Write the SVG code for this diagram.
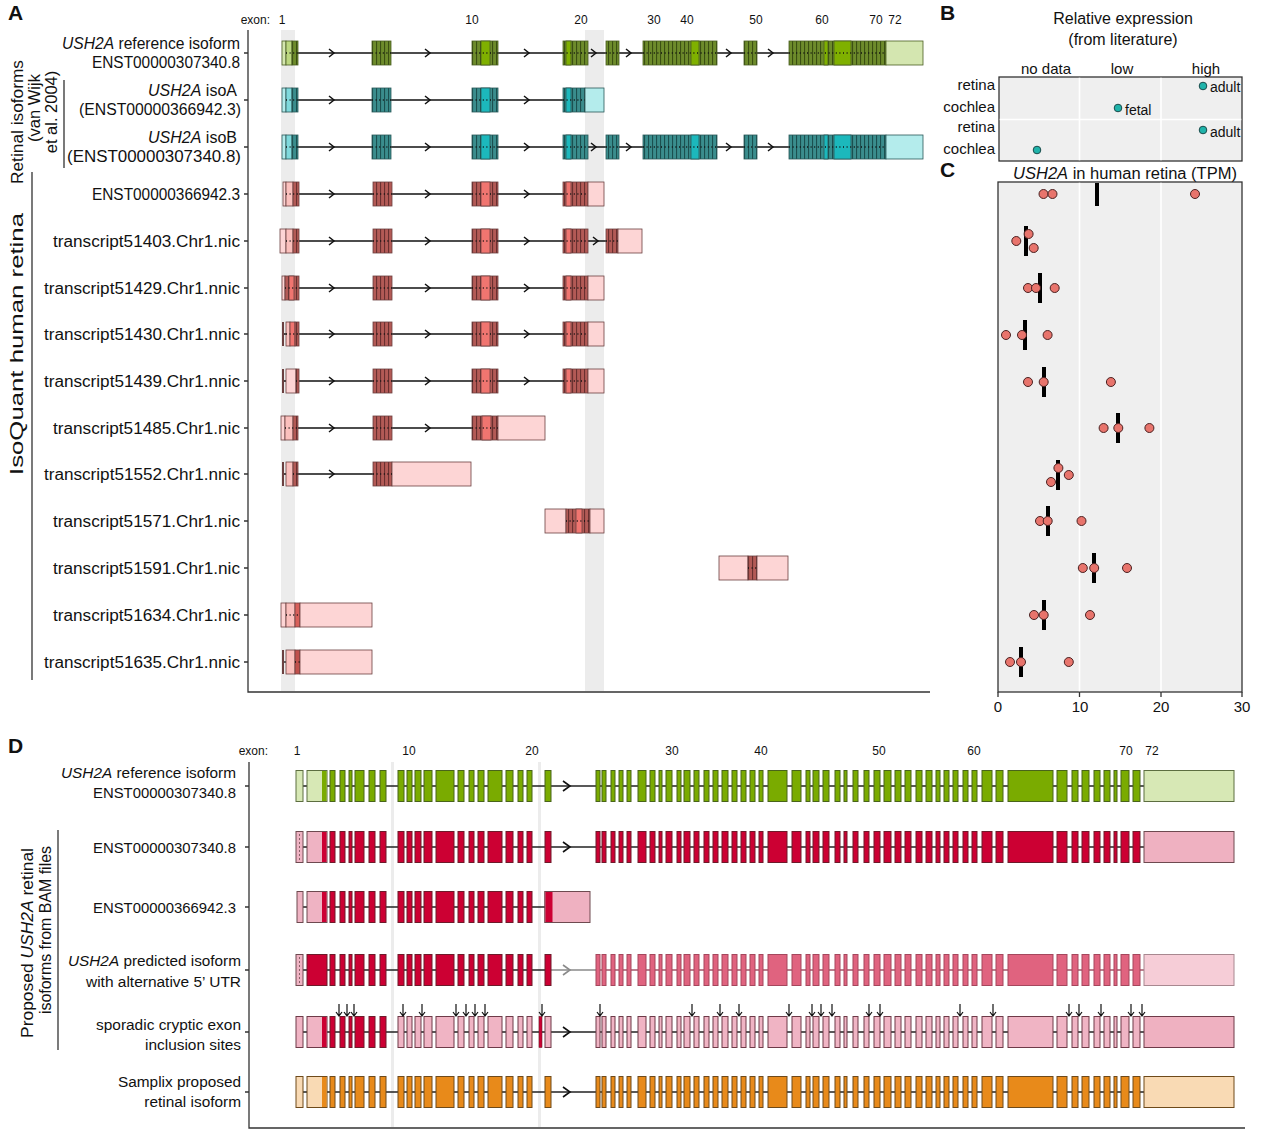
<svg xmlns="http://www.w3.org/2000/svg" xmlns:xlink="http://www.w3.org/1999/xlink" width="1280" height="1129" viewBox="0 0 1280 1129">
<style>
text{font-family:"Liberation Sans",Arial,sans-serif;fill:#111}
.lab{font-size:16px;text-anchor:end}
.labD{font-size:15.4px;text-anchor:end}
.ex{font-size:12px;text-anchor:middle}
.pl{font-size:21px;font-weight:bold}
.ax{stroke:#333;stroke-width:1.3;fill:none}
.in{stroke:#111;stroke-width:1.3;fill:none}
.inD{stroke:#222;stroke-width:1.6;fill:none}
.dt{stroke:#111;stroke-width:1.3;fill:none;stroke-dasharray:1 2.6}
.sg{stroke:#4a5e22;stroke-width:0.8}
.st{stroke:#2a5858;stroke-width:0.8}
.sr{stroke:#6b4040;stroke-width:0.8}
.band{fill:#ececec}
.dot{fill:#e8746c;stroke:#4a2222;stroke-width:1}
.bdot{fill:#1fb3aa;stroke:#1a4a4a;stroke-width:1}
.med{fill:#000}
.sm{font-size:15px}
</style>
<defs>
<pattern id="pG" width="4" height="30" patternUnits="userSpaceOnUse"><rect width="4" height="30" fill="#6d8b2b"/><rect width="1.1" height="30" fill="#3b5012"/></pattern>
<pattern id="pT" width="4" height="30" patternUnits="userSpaceOnUse"><rect width="4" height="30" fill="#3a8d8d"/><rect width="1.1" height="30" fill="#1b5050"/></pattern>
<pattern id="pR" width="4" height="30" patternUnits="userSpaceOnUse"><rect width="4" height="30" fill="#b35a56"/><rect width="1.1" height="30" fill="#6a3030"/></pattern>
<path id="chev" d="M-3,-4L2,0L-3,4" fill="none" stroke="#111" stroke-width="1.5"/>
<path id="chevD" d="M-4,-5L3,0L-4,5" fill="none" stroke="#111" stroke-width="1.6"/>
<path id="darr" d="M0,-28V-16M-3,-20L0,-16L3,-20" fill="none" stroke="#111" stroke-width="1.2"/>
<g id="dA" stroke-width="1">
<rect x="330" y="-15.5" width="5" height="31"/><rect x="340" y="-15.5" width="5" height="31"/><rect x="349" y="-15.5" width="3" height="31"/><rect x="355" y="-15.5" width="9" height="31"/><rect x="369" y="-15.5" width="6" height="31"/><rect x="380" y="-15.5" width="6" height="31"/>
</g>
<g id="dB" stroke-width="1">
<rect x="398" y="-15.5" width="6" height="31"/><rect x="407" y="-15.5" width="5" height="31"/><rect x="415" y="-15.5" width="6" height="31"/><rect x="424" y="-15.5" width="8" height="31"/><rect x="436" y="-15.5" width="18" height="31"/><rect x="458" y="-15.5" width="6" height="31"/><rect x="469" y="-15.5" width="5" height="31"/><rect x="478" y="-15.5" width="6" height="31"/><rect x="488" y="-15.5" width="14" height="31"/><rect x="506" y="-15.5" width="7" height="31"/><rect x="518" y="-15.5" width="5" height="31"/><rect x="527" y="-15.5" width="5" height="31"/><rect x="545" y="-15.5" width="6" height="31"/>
</g>
<g id="dC" stroke-width="1">
<rect x="596" y="-15.5" width="4" height="31"/><rect x="602" y="-15.5" width="4" height="31"/><rect x="611" y="-15.5" width="4" height="31"/><rect x="619" y="-15.5" width="4" height="31"/><rect x="627" y="-15.5" width="4" height="31"/><rect x="638" y="-15.5" width="8" height="31"/><rect x="650" y="-15.5" width="5" height="31"/><rect x="659" y="-15.5" width="3" height="31"/><rect x="666" y="-15.5" width="6" height="31"/><rect x="677" y="-15.5" width="4" height="31"/><rect x="684" y="-15.5" width="6" height="31"/><rect x="694" y="-15.5" width="5" height="31"/><rect x="704" y="-15.5" width="5" height="31"/><rect x="713" y="-15.5" width="5" height="31"/><rect x="722" y="-15.5" width="6" height="31"/><rect x="732" y="-15.5" width="5" height="31"/><rect x="741" y="-15.5" width="5" height="31"/><rect x="750" y="-15.5" width="5" height="31"/><rect x="759" y="-15.5" width="4" height="31"/><rect x="768" y="-15.5" width="19" height="31"/><rect x="792" y="-15.5" width="9" height="31"/><rect x="806" y="-15.5" width="4" height="31"/><rect x="813" y="-15.5" width="6" height="31"/><rect x="823" y="-15.5" width="6" height="31"/><rect x="835" y="-15.5" width="5" height="31"/><rect x="844" y="-15.5" width="3" height="31"/><rect x="853" y="-15.5" width="5" height="31"/><rect x="864" y="-15.5" width="5" height="31"/><rect x="874" y="-15.5" width="6" height="31"/><rect x="884" y="-15.5" width="7" height="31"/><rect x="895" y="-15.5" width="6" height="31"/><rect x="905" y="-15.5" width="6" height="31"/><rect x="916" y="-15.5" width="6" height="31"/><rect x="926" y="-15.5" width="6" height="31"/><rect x="936" y="-15.5" width="4" height="31"/><rect x="944" y="-15.5" width="5" height="31"/><rect x="953" y="-15.5" width="5" height="31"/><rect x="963" y="-15.5" width="5" height="31"/><rect x="972" y="-15.5" width="5" height="31"/><rect x="982" y="-15.5" width="10" height="31"/><rect x="996" y="-15.5" width="7" height="31"/><rect x="1008" y="-15.5" width="45" height="31"/><rect x="1057" y="-15.5" width="10" height="31"/><rect x="1072" y="-15.5" width="6" height="31"/><rect x="1082" y="-15.5" width="7" height="31"/><rect x="1094" y="-15.5" width="6" height="31"/><rect x="1104" y="-15.5" width="6" height="31"/><rect x="1114" y="-15.5" width="3" height="31"/><rect x="1121" y="-15.5" width="8" height="31"/><rect x="1133" y="-15.5" width="7" height="31"/>
</g>
</defs>
<rect width="1280" height="1129" fill="#fff"/>

<!-- ============ PANEL A ============ -->
<g id="panelA">
<text class="pl" x="8" y="20">A</text>
<g id="a-exon-scale">
<text class="ex" x="270" y="24" style="text-anchor:end">exon:</text>
<text class="ex" x="282" y="24">1</text><text class="ex" x="472" y="24">10</text><text class="ex" x="581" y="24">20</text><text class="ex" x="654" y="24">30</text><text class="ex" x="687" y="24">40</text><text class="ex" x="756" y="24">50</text><text class="ex" x="822" y="24">60</text><text class="ex" x="876" y="24">70</text><text class="ex" x="895" y="24">72</text>
</g>
<rect class="band" x="281" y="30" width="14" height="661"/>
<rect class="band" x="585" y="30" width="19" height="661"/>
<g id="a-axes">
<path class="ax" d="M248,30V692H930"/>
<path class="ax" d="M244,53H248M244,100H248M244,147H248M244,194H248M244,241H248M244,288H248M244,334H248M244,381H248M244,428H248M244,474H248M244,521H248M244,568H248M244,615H248M244,662H248"/>
<path class="ax" d="M64,80V168M32,172V680"/>
</g>
<g id="a-side-labels">
<text transform="translate(23,122) rotate(-90)" text-anchor="middle" font-size="16.5" textLength="124" lengthAdjust="spacingAndGlyphs">Retinal isoforms</text>
<text transform="translate(40,108) rotate(-90)" text-anchor="middle" font-size="16.5">(van Wijk</text>
<text transform="translate(57,112) rotate(-90)" text-anchor="middle" font-size="16.5">et al. 2004)</text>
<text transform="translate(23,344) rotate(-90)" text-anchor="middle" font-size="18" textLength="262" lengthAdjust="spacingAndGlyphs">IsoQuant human retina</text>
</g>
<g id="a-labels">
<text class="lab" x="240" y="49" textLength="178" lengthAdjust="spacingAndGlyphs"><tspan font-style="italic">USH2A</tspan> reference isoform</text>
<text class="lab" x="240" y="68" textLength="148" lengthAdjust="spacingAndGlyphs">ENST00000307340.8</text>
<text class="lab" x="237" y="96"><tspan font-style="italic">USH2A</tspan> isoA</text>
<text class="lab" x="241" y="115" textLength="162" lengthAdjust="spacingAndGlyphs">(ENST00000366942.3)</text>
<text class="lab" x="237" y="143"><tspan font-style="italic">USH2A</tspan> isoB</text>
<text class="lab" x="241" y="162" textLength="174" lengthAdjust="spacingAndGlyphs">(ENST00000307340.8)</text>
<text class="lab" x="240" y="200" textLength="148" lengthAdjust="spacingAndGlyphs">ENST00000366942.3</text>
<text class="lab" x="240" y="247" textLength="187" lengthAdjust="spacingAndGlyphs">transcript51403.Chr1.nic</text>
<text class="lab" x="240" y="294" textLength="196" lengthAdjust="spacingAndGlyphs">transcript51429.Chr1.nnic</text>
<text class="lab" x="240" y="340" textLength="196" lengthAdjust="spacingAndGlyphs">transcript51430.Chr1.nnic</text>
<text class="lab" x="240" y="387" textLength="196" lengthAdjust="spacingAndGlyphs">transcript51439.Chr1.nnic</text>
<text class="lab" x="240" y="434" textLength="187" lengthAdjust="spacingAndGlyphs">transcript51485.Chr1.nic</text>
<text class="lab" x="240" y="480" textLength="196" lengthAdjust="spacingAndGlyphs">transcript51552.Chr1.nnic</text>
<text class="lab" x="240" y="527" textLength="187" lengthAdjust="spacingAndGlyphs">transcript51571.Chr1.nic</text>
<text class="lab" x="240" y="574" textLength="187" lengthAdjust="spacingAndGlyphs">transcript51591.Chr1.nic</text>
<text class="lab" x="240" y="621" textLength="187" lengthAdjust="spacingAndGlyphs">transcript51634.Chr1.nic</text>
<text class="lab" x="240" y="668" textLength="196" lengthAdjust="spacingAndGlyphs">transcript51635.Chr1.nnic</text>
</g>

<g id="a-ref" transform="translate(0,53)">
<path class="in" d="M298,0H886"/>
<rect class="sg" x="282" y="-12" width="4" height="24" fill="#d4e6b0"/>
<rect class="sg" x="286" y="-12" width="6" height="24" fill="#bcd780"/>
<rect class="sg" x="292" y="-12" width="6" height="24" fill="url(#pG)"/>
<rect class="sg" x="372" y="-12" width="19" height="24" fill="url(#pG)"/>
<rect class="sg" x="472" y="-12" width="26" height="24" fill="url(#pG)"/>
<rect class="sg" x="481" y="-12" width="9" height="24" fill="#7fb000"/>
<rect class="sg" x="563" y="-12" width="25" height="24" fill="url(#pG)"/>
<rect class="sg" x="566" y="-12" width="5" height="24" fill="#7fb000"/>
<rect class="sg" x="606" y="-12" width="13" height="24" fill="url(#pG)"/>
<rect class="sg" x="643" y="-12" width="74" height="24" fill="url(#pG)"/>
<rect class="sg" x="691" y="-12" width="8" height="24" fill="#7fb000"/>
<rect class="sg" x="744" y="-12" width="13" height="24" fill="url(#pG)"/>
<rect class="sg" x="789" y="-12" width="97" height="24" fill="url(#pG)"/>
<rect class="sg" x="824" y="-12" width="4" height="24" fill="#7fb000"/>
<rect class="sg" x="834" y="-12" width="17" height="24" fill="#7fb000"/>
<rect class="sg" x="886" y="-12" width="37" height="24" fill="#d4e6b0"/>
<path class="dt" d="M286,0H298M372,0H391M472,0H498M563,0H588M606,0H619M643,0H717M744,0H757M789,0H886"/>
<use href="#chev" x="332"/><use href="#chev" x="428"/><use href="#chev" x="527"/><use href="#chev" x="594"/><use href="#chev" x="629"/><use href="#chev" x="729"/><use href="#chev" x="771"/>
</g>

<g id="a-isoA" transform="translate(0,100)">
<path class="in" d="M298,0H585"/>
<rect class="st" x="282" y="-12" width="4" height="24" fill="#b4ecec"/>
<rect class="st" x="286" y="-12" width="6" height="24" fill="#7fd9dc"/>
<rect class="st" x="292" y="-12" width="6" height="24" fill="url(#pT)"/>
<rect class="st" x="372" y="-12" width="19" height="24" fill="url(#pT)"/>
<rect class="st" x="472" y="-12" width="26" height="24" fill="url(#pT)"/>
<rect class="st" x="481" y="-12" width="9" height="24" fill="#1cb8bc"/>
<rect class="st" x="563" y="-12" width="22" height="24" fill="url(#pT)"/>
<rect class="st" x="566" y="-12" width="5" height="24" fill="#1cb8bc"/>
<rect class="st" x="585" y="-12" width="19" height="24" fill="#b4ecec"/>
<path class="dt" d="M286,0H298M372,0H391M472,0H498M563,0H585"/>
<use href="#chev" x="332"/><use href="#chev" x="428"/><use href="#chev" x="527"/>
</g>

<g id="a-isoB" transform="translate(0,147)">
<path class="in" d="M298,0H886"/>
<rect class="st" x="282" y="-12" width="4" height="24" fill="#b4ecec"/>
<rect class="st" x="286" y="-12" width="6" height="24" fill="#7fd9dc"/>
<rect class="st" x="292" y="-12" width="6" height="24" fill="url(#pT)"/>
<rect class="st" x="372" y="-12" width="19" height="24" fill="url(#pT)"/>
<rect class="st" x="472" y="-12" width="26" height="24" fill="url(#pT)"/>
<rect class="st" x="481" y="-12" width="9" height="24" fill="#1cb8bc"/>
<rect class="st" x="563" y="-12" width="25" height="24" fill="url(#pT)"/>
<rect class="st" x="566" y="-12" width="5" height="24" fill="#1cb8bc"/>
<rect class="st" x="606" y="-12" width="13" height="24" fill="url(#pT)"/>
<rect class="st" x="643" y="-12" width="74" height="24" fill="url(#pT)"/>
<rect class="st" x="691" y="-12" width="8" height="24" fill="#1cb8bc"/>
<rect class="st" x="744" y="-12" width="13" height="24" fill="url(#pT)"/>
<rect class="st" x="789" y="-12" width="97" height="24" fill="url(#pT)"/>
<rect class="st" x="824" y="-12" width="4" height="24" fill="#1cb8bc"/>
<rect class="st" x="834" y="-12" width="17" height="24" fill="#1cb8bc"/>
<rect class="st" x="886" y="-12" width="37" height="24" fill="#b4ecec"/>
<path class="dt" d="M286,0H298M372,0H391M472,0H498M563,0H588M606,0H619M643,0H717M744,0H757M789,0H886"/>
<use href="#chev" x="332"/><use href="#chev" x="428"/><use href="#chev" x="527"/><use href="#chev" x="594"/><use href="#chev" x="629"/><use href="#chev" x="729"/><use href="#chev" x="771"/>
</g>

<g id="a-r366942" transform="translate(0,194)">
<path class="in" d="M299,0H563"/>
<rect class="sr" x="283" y="-12" width="3" height="24" fill="#fdd5d5"/>
<rect class="sr" x="286" y="-12" width="7" height="24" fill="#fbc0bd"/>
<rect class="sr" x="293" y="-12" width="6" height="24" fill="url(#pR)"/>
<rect class="sr" x="373" y="-12" width="19" height="24" fill="url(#pR)"/>
<rect class="sr" x="472" y="-12" width="26" height="24" fill="url(#pR)"/>
<rect class="sr" x="481" y="-12" width="9" height="24" fill="#f07570"/>
<rect class="sr" x="563" y="-12" width="25" height="24" fill="url(#pR)"/>
<rect class="sr" x="566" y="-12" width="5" height="24" fill="#f07570"/>
<rect class="sr" x="588" y="-12" width="16" height="24" fill="#fdd5d5"/>
<path class="dt" d="M286,0H299M373,0H392M472,0H498M563,0H588"/>
<use href="#chev" x="332"/><use href="#chev" x="428"/><use href="#chev" x="527"/>
</g>

<g id="a-t51403" transform="translate(0,241)">
<path class="in" d="M299,0H606"/>
<rect class="sr" x="280" y="-12" width="6" height="24" fill="#fdd5d5"/>
<rect class="sr" x="286" y="-12" width="7" height="24" fill="#fbc0bd"/>
<rect class="sr" x="293" y="-12" width="6" height="24" fill="url(#pR)"/>
<rect class="sr" x="373" y="-12" width="19" height="24" fill="url(#pR)"/>
<rect class="sr" x="472" y="-12" width="26" height="24" fill="url(#pR)"/>
<rect class="sr" x="481" y="-12" width="9" height="24" fill="#f07570"/>
<rect class="sr" x="563" y="-12" width="25" height="24" fill="url(#pR)"/>
<rect class="sr" x="566" y="-12" width="5" height="24" fill="#f07570"/>
<rect class="sr" x="606" y="-12" width="12" height="24" fill="url(#pR)"/>
<rect class="sr" x="618" y="-12" width="24" height="24" fill="#fdd5d5"/>
<path class="dt" d="M286,0H299M373,0H392M472,0H498M563,0H588M606,0H618"/>
<use href="#chev" x="332"/><use href="#chev" x="428"/><use href="#chev" x="527"/><use href="#chev" x="596"/>
</g>

<g id="a-t51429" transform="translate(0,288)">
<path class="in" d="M299,0H563"/>
<rect class="sr" x="282" y="-12" width="3" height="24" fill="#fdd5d5"/>
<rect class="sr" x="285" y="-12" width="14" height="24" fill="url(#pR)"/>
<rect class="sr" x="289" y="-12" width="5" height="24" fill="#f07570"/>
<rect class="sr" x="373" y="-12" width="19" height="24" fill="url(#pR)"/>
<rect class="sr" x="472" y="-12" width="26" height="24" fill="url(#pR)"/>
<rect class="sr" x="481" y="-12" width="9" height="24" fill="#f07570"/>
<rect class="sr" x="563" y="-12" width="25" height="24" fill="url(#pR)"/>
<rect class="sr" x="566" y="-12" width="5" height="24" fill="#f07570"/>
<rect class="sr" x="588" y="-12" width="16" height="24" fill="#fdd5d5"/>
<path class="dt" d="M285,0H299M373,0H392M472,0H498M563,0H588"/>
<use href="#chev" x="332"/><use href="#chev" x="428"/><use href="#chev" x="527"/>
</g>

<g id="a-t51430" transform="translate(0,334)">
<path class="in" d="M283,0H563"/>
<rect x="282" y="-12" width="2" height="24" fill="#6b4040"/>
<rect class="sr" x="286" y="-12" width="4" height="24" fill="#fbc0bd"/>
<rect class="sr" x="290" y="-12" width="5" height="24" fill="#f07570"/>
<rect class="sr" x="295" y="-12" width="4" height="24" fill="url(#pR)"/>
<rect class="sr" x="373" y="-12" width="19" height="24" fill="url(#pR)"/>
<rect class="sr" x="472" y="-12" width="26" height="24" fill="url(#pR)"/>
<rect class="sr" x="481" y="-12" width="9" height="24" fill="#f07570"/>
<rect class="sr" x="563" y="-12" width="25" height="24" fill="url(#pR)"/>
<rect class="sr" x="566" y="-12" width="5" height="24" fill="#f07570"/>
<rect class="sr" x="588" y="-12" width="16" height="24" fill="#fdd5d5"/>
<path class="dt" d="M286,0H299M373,0H392M472,0H498M563,0H588"/>
<use href="#chev" x="332"/><use href="#chev" x="428"/><use href="#chev" x="527"/>
</g>

<g id="a-t51439" transform="translate(0,381)">
<path class="in" d="M283,0H563"/>
<rect x="282" y="-12" width="2" height="24" fill="#6b4040"/>
<rect class="sr" x="286" y="-12" width="10" height="24" fill="#fdd5d5"/>
<rect class="sr" x="296" y="-12" width="3" height="24" fill="url(#pR)"/>
<rect class="sr" x="373" y="-12" width="19" height="24" fill="url(#pR)"/>
<rect class="sr" x="472" y="-12" width="26" height="24" fill="url(#pR)"/>
<rect class="sr" x="481" y="-12" width="9" height="24" fill="#f07570"/>
<rect class="sr" x="563" y="-12" width="25" height="24" fill="url(#pR)"/>
<rect class="sr" x="566" y="-12" width="5" height="24" fill="#f07570"/>
<rect class="sr" x="588" y="-12" width="16" height="24" fill="#fdd5d5"/>
<path class="dt" d="M296,0H299M373,0H392M472,0H498M563,0H588"/>
<use href="#chev" x="332"/><use href="#chev" x="428"/><use href="#chev" x="527"/>
</g>

<g id="a-t51485" transform="translate(0,428)">
<path class="in" d="M298,0H472"/>
<rect class="sr" x="281" y="-12" width="4" height="24" fill="#fdd5d5"/>
<rect class="sr" x="285" y="-12" width="8" height="24" fill="#fbc0bd"/>
<rect class="sr" x="293" y="-12" width="5" height="24" fill="url(#pR)"/>
<rect class="sr" x="373" y="-12" width="19" height="24" fill="url(#pR)"/>
<rect class="sr" x="472" y="-12" width="26" height="24" fill="url(#pR)"/>
<rect class="sr" x="482" y="-12" width="9" height="24" fill="#f07570"/>
<rect class="sr" x="498" y="-12" width="47" height="24" fill="#fdd5d5"/>
<path class="dt" d="M285,0H298M373,0H392M472,0H498"/>
<use href="#chev" x="332"/><use href="#chev" x="428"/>
</g>

<g id="a-t51552" transform="translate(0,474)">
<path class="in" d="M283,0H373"/>
<rect x="282" y="-12" width="2" height="24" fill="#6b4040"/>
<rect class="sr" x="286" y="-12" width="7" height="24" fill="#fbc0bd"/>
<rect class="sr" x="293" y="-12" width="5" height="24" fill="url(#pR)"/>
<rect class="sr" x="373" y="-12" width="19" height="24" fill="url(#pR)"/>
<rect class="sr" x="392" y="-12" width="79" height="24" fill="#fdd5d5"/>
<path class="dt" d="M293,0H298M373,0H392"/>
<use href="#chev" x="332"/>
</g>

<g id="a-t51571" transform="translate(0,521)">
<rect class="sr" x="545" y="-12" width="21" height="24" fill="#fdd5d5"/>
<rect class="sr" x="566" y="-12" width="24" height="24" fill="url(#pR)"/>
<rect class="sr" x="576" y="-12" width="6" height="24" fill="#f07570"/>
<rect class="sr" x="590" y="-12" width="14" height="24" fill="#fdd5d5"/>
<path class="dt" d="M566,0H590"/>
</g>

<g id="a-t51591" transform="translate(0,568)">
<rect class="sr" x="719" y="-12" width="29" height="24" fill="#fdd5d5"/>
<rect class="sr" x="748" y="-12" width="9" height="24" fill="url(#pR)"/>
<rect class="sr" x="757" y="-12" width="31" height="24" fill="#fdd5d5"/>
<path class="dt" d="M748,0H757"/>
</g>

<g id="a-t51634" transform="translate(0,615)">
<rect class="sr" x="281" y="-12" width="5" height="24" fill="#fdd5d5"/>
<rect class="sr" x="286" y="-12" width="9" height="24" fill="#fbc0bd"/>
<rect class="sr" x="295" y="-12" width="5" height="24" fill="#d8605a"/>
<rect class="sr" x="300" y="-12" width="72" height="24" fill="#fdd5d5"/>
<path class="dt" d="M286,0H300"/>
</g>

<g id="a-t51635" transform="translate(0,662)">
<path class="in" d="M283,0H286"/>
<rect x="282" y="-12" width="2" height="24" fill="#6b4040"/>
<rect class="sr" x="286" y="-12" width="9" height="24" fill="#fbc0bd"/>
<rect class="sr" x="295" y="-12" width="5" height="24" fill="#c0504c"/>
<rect class="sr" x="300" y="-12" width="72" height="24" fill="#fdd5d5"/>
<path class="dt" d="M295,0H300"/>
</g>
</g>

<!-- ============ PANEL B ============ -->
<g id="panelB">
<text class="pl" x="940" y="20">B</text>
<text x="1123" y="24" font-size="16" text-anchor="middle">Relative expression</text>
<text x="1123" y="45" font-size="16" text-anchor="middle">(from literature)</text>
<rect x="999" y="77" width="243" height="84" fill="#efefef" stroke="#333" stroke-width="1.3"/>
<path d="M1079.5,77.7V160.3M1161,77.7V160.3M999.7,119.5H1241.3" stroke="#fff" stroke-width="1.6"/>
<text class="sm" x="1046" y="74" text-anchor="middle">no data</text>
<text class="sm" x="1122" y="74" text-anchor="middle">low</text>
<text class="sm" x="1206" y="74" text-anchor="middle">high</text>
<text class="sm" x="995" y="90" text-anchor="end">retina</text>
<text class="sm" x="995" y="112" text-anchor="end">cochlea</text>
<text class="sm" x="995" y="132" text-anchor="end">retina</text>
<text class="sm" x="995" y="154" text-anchor="end">cochlea</text>
<circle class="bdot" cx="1203" cy="86" r="3.8"/>
<circle class="bdot" cx="1118" cy="108" r="3.8"/>
<circle class="bdot" cx="1203" cy="130" r="3.8"/>
<circle class="bdot" cx="1037" cy="150" r="3.8"/>
<text x="1210" y="92" font-size="14">adult</text>
<text x="1125" y="115" font-size="14">fetal</text>
<text x="1210" y="137" font-size="14">adult</text>
</g>

<!-- ============ PANEL C ============ -->
<g id="panelC">
<text class="pl" x="940" y="177">C</text>
<text x="1125" y="179" font-size="16" text-anchor="middle" textLength="224" lengthAdjust="spacingAndGlyphs"><tspan font-style="italic">USH2A</tspan> in human retina (TPM)</text>
<rect x="998" y="182" width="244" height="510" fill="#efefef" stroke="#333" stroke-width="1.3"/>
<path d="M1079.5,182.7V691.3M1161,182.7V691.3" stroke="#fff" stroke-width="1.6"/>
<path class="ax" d="M998,692V697M1079.5,692V697M1161,692V697M1242,692V697"/>
<text class="sm" x="998" y="712" text-anchor="middle">0</text>
<text class="sm" x="1080" y="712" text-anchor="middle">10</text>
<text class="sm" x="1161" y="712" text-anchor="middle">20</text>
<text class="sm" x="1242" y="712" text-anchor="middle">30</text>
<g id="c-medians">
<rect class="med" x="1095" y="183" width="4" height="23"/>
<rect class="med" x="1024" y="226" width="4" height="30"/>
<rect class="med" x="1038" y="273" width="4" height="30"/>
<rect class="med" x="1023" y="320" width="4" height="30"/>
<rect class="med" x="1042" y="367" width="4" height="30"/>
<rect class="med" x="1116" y="413" width="4" height="30"/>
<rect class="med" x="1056" y="460" width="4" height="30"/>
<rect class="med" x="1046" y="506" width="4" height="30"/>
<rect class="med" x="1092" y="553" width="4" height="30"/>
<rect class="med" x="1042" y="600" width="4" height="30"/>
<rect class="med" x="1019" y="647" width="4" height="30"/>
</g>
<g id="c-dots">
<circle class="dot" cx="1043.5" cy="194" r="4.5"/><circle class="dot" cx="1052.5" cy="194" r="4.5"/><circle class="dot" cx="1195" cy="194" r="4.5"/>
<circle class="dot" cx="1028.6" cy="234" r="4.5"/><circle class="dot" cx="1016.3" cy="241" r="4.5"/><circle class="dot" cx="1033.7" cy="248" r="4.5"/>
<circle class="dot" cx="1028" cy="288" r="4.5"/><circle class="dot" cx="1036" cy="288" r="4.5"/><circle class="dot" cx="1054.7" cy="288" r="4.5"/>
<circle class="dot" cx="1006" cy="335" r="4.5"/><circle class="dot" cx="1022" cy="335" r="4.5"/><circle class="dot" cx="1047.6" cy="335" r="4.5"/>
<circle class="dot" cx="1028" cy="382" r="4.5"/><circle class="dot" cx="1043.7" cy="382" r="4.5"/><circle class="dot" cx="1110.9" cy="382" r="4.5"/>
<circle class="dot" cx="1103.6" cy="428" r="4.5"/><circle class="dot" cx="1118.3" cy="428" r="4.5"/><circle class="dot" cx="1149.4" cy="428" r="4.5"/>
<circle class="dot" cx="1058.4" cy="468" r="4.5"/><circle class="dot" cx="1068.8" cy="475" r="4.5"/><circle class="dot" cx="1051" cy="482" r="4.5"/>
<circle class="dot" cx="1040" cy="521" r="4.5"/><circle class="dot" cx="1047.7" cy="521" r="4.5"/><circle class="dot" cx="1081.5" cy="521" r="4.5"/>
<circle class="dot" cx="1082.8" cy="568" r="4.5"/><circle class="dot" cx="1094.2" cy="568" r="4.5"/><circle class="dot" cx="1127" cy="568" r="4.5"/>
<circle class="dot" cx="1034" cy="615" r="4.5"/><circle class="dot" cx="1043.7" cy="615" r="4.5"/><circle class="dot" cx="1090" cy="615" r="4.5"/>
<circle class="dot" cx="1010" cy="662" r="4.5"/><circle class="dot" cx="1021" cy="662" r="4.5"/><circle class="dot" cx="1068.8" cy="662" r="4.5"/>
</g>
</g>

<!-- ============ PANEL D ============ -->
<g id="panelD">
<text class="pl" x="8" y="753">D</text>
<g id="d-exon-scale">
<text class="ex" x="268" y="755" style="text-anchor:end">exon:</text>
<text class="ex" x="297" y="755">1</text><text class="ex" x="409" y="755">10</text><text class="ex" x="532" y="755">20</text><text class="ex" x="672" y="755">30</text><text class="ex" x="761" y="755">40</text><text class="ex" x="879" y="755">50</text><text class="ex" x="974" y="755">60</text><text class="ex" x="1126" y="755">70</text><text class="ex" x="1152" y="755">72</text>
</g>
<rect x="391" y="762" width="3" height="365" fill="#ececec"/>
<rect x="538" y="762" width="3" height="365" fill="#ececec"/>
<g id="d-axes">
<path class="ax" d="M249,762V1128H1245"/>
<path class="ax" d="M245,786H249M245,847H249M245,907H249M245,970H249M245,1032H249M245,1092H249"/>
<path class="ax" d="M58,830V1050"/>
</g>
<g id="d-side-labels">
<text transform="translate(33,943) rotate(-90)" text-anchor="middle" font-size="16.5" textLength="190" lengthAdjust="spacingAndGlyphs">Proposed <tspan font-style="italic">USH2A</tspan> retinal</text>
<text transform="translate(51,930) rotate(-90)" text-anchor="middle" font-size="16.5" textLength="168" lengthAdjust="spacingAndGlyphs">isoforms from BAM files</text>
</g>
<g id="d-labels">
<text class="labD" x="236" y="778" textLength="175" lengthAdjust="spacingAndGlyphs"><tspan font-style="italic">USH2A</tspan> reference isoform</text>
<text class="labD" x="236" y="798" textLength="143" lengthAdjust="spacingAndGlyphs">ENST00000307340.8</text>
<text class="labD" x="236" y="853" textLength="143" lengthAdjust="spacingAndGlyphs">ENST00000307340.8</text>
<text class="labD" x="236" y="913" textLength="143" lengthAdjust="spacingAndGlyphs">ENST00000366942.3</text>
<text class="labD" x="241" y="966" textLength="173" lengthAdjust="spacingAndGlyphs"><tspan font-style="italic">USH2A</tspan> predicted isoform</text>
<text class="labD" x="241" y="987" textLength="155" lengthAdjust="spacingAndGlyphs">with alternative 5’ UTR</text>
<text class="labD" x="241" y="1030" textLength="145" lengthAdjust="spacingAndGlyphs">sporadic cryptic exon</text>
<text class="labD" x="241" y="1050" textLength="96" lengthAdjust="spacingAndGlyphs">inclusion sites</text>
<text class="labD" x="241" y="1087" textLength="123" lengthAdjust="spacingAndGlyphs">Samplix proposed</text>
<text class="labD" x="241" y="1107">retinal isoform</text>
</g>

<g id="d-ref" transform="translate(0,786)">
<path class="inD" d="M303,0H1144"/>
<use href="#chevD" x="567"/>
<rect x="296" y="-15.5" width="7" height="31" fill="#d7e8b5" stroke="#5d6e40"/>
<rect x="307" y="-15.5" width="20" height="31" fill="#d7e8b5" stroke="#5d6e40"/>
<rect x="322" y="-15" width="4.5" height="30" fill="#7aab00"/>
<use href="#dA" fill="#7aab00" stroke="#49641a"/>
<use href="#dB" fill="#7aab00" stroke="#49641a"/>
<use href="#dC" fill="#7aab00" stroke="#49641a"/>
<rect x="1144" y="-15.5" width="90" height="31" fill="#d7e8b5" stroke="#5d6e40"/>
</g>

<g id="d-307340" transform="translate(0,847)">
<path class="inD" d="M303,0H1144"/>
<use href="#chevD" x="567"/>
<rect x="296" y="-15.5" width="7" height="31" fill="#efb3c3" stroke="#6e4a50"/>
<path d="M299.5,-13V13" stroke="#6e4a50" stroke-width="0.8" stroke-dasharray="2 2"/>
<rect x="307" y="-15.5" width="20" height="31" fill="#efb3c3" stroke="#6e4a50"/>
<rect x="322" y="-15" width="4.5" height="30" fill="#cc0033"/>
<use href="#dA" fill="#cc0033" stroke="#6e1a2a"/>
<use href="#dB" fill="#cc0033" stroke="#6e1a2a"/>
<use href="#dC" fill="#cc0033" stroke="#6e1a2a"/>
<rect x="1144" y="-15.5" width="90" height="31" fill="#efb1c1" stroke="#6e4a50"/>
</g>

<g id="d-366942" transform="translate(0,907)">
<path class="inD" d="M303,0H545"/>
<rect x="297" y="-15.5" width="6" height="31" fill="#efb3c3" stroke="#6e4a50"/>
<rect x="307" y="-15.5" width="20" height="31" fill="#efb3c3" stroke="#6e4a50"/>
<rect x="322" y="-15" width="4.5" height="30" fill="#cc0033"/>
<use href="#dA" fill="#cc0033" stroke="#6e1a2a"/>
<use href="#dB" fill="#cc0033" stroke="#6e1a2a"/>
<rect x="545" y="-15.5" width="45" height="31" fill="#efb1c1" stroke="#6e4a50"/>
<rect x="545.5" y="-15" width="7" height="30" fill="#cc0033"/>
</g>

<g id="d-predicted" transform="translate(0,970)">
<path class="inD" d="M303,0H551"/>
<path d="M551,0H596" stroke="#8a8a8a" stroke-width="1.6"/>
<path d="M596,0H1144" stroke="#a3566a" stroke-width="1.6"/>
<path d="M563,-5L570,0L563,5" fill="none" stroke="#8a8a8a" stroke-width="1.6"/>
<rect x="296" y="-15.5" width="7" height="31" fill="#efb3c3" stroke="#6e4a50"/>
<path d="M299.5,-13V13" stroke="#6e4a50" stroke-width="0.8" stroke-dasharray="2 2"/>
<rect x="307" y="-15.5" width="20" height="31" fill="#cc0033" stroke="#6e1a2a"/>
<use href="#dA" fill="#cc0033" stroke="#6e1a2a"/>
<use href="#dB" fill="#cc0033" stroke="#6e1a2a"/>
<use href="#dC" fill="#e0637f" stroke="#a5475d"/>
<rect x="1144" y="-15.5" width="90" height="31" fill="#f6cdd7" stroke="#a88890"/>
</g>

<g id="d-cryptic" transform="translate(0,1032)">
<path class="inD" d="M303,0H1144"/>
<use href="#chevD" x="567"/>
<rect x="296" y="-15.5" width="7" height="31" fill="#f0b4c4" stroke="#6e3a48"/>
<rect x="307" y="-15.5" width="20" height="31" fill="#f0b4c4" stroke="#6e3a48"/>
<rect x="322" y="-15" width="4.5" height="30" fill="#cc0033"/>
<use href="#dA" fill="#cc0033" stroke="#6e1a2a"/>
<use href="#dB" fill="#f0b4c4" stroke="#6e3a48"/>
<rect x="539" y="-15.5" width="3" height="31" fill="#cc0033" stroke="#6e1a2a" stroke-width="0.6"/>
<use href="#dC" fill="#f0b4c4" stroke="#6e3a48"/>
<rect x="1144" y="-15.5" width="90" height="31" fill="#efb1c1" stroke="#6e3a48"/>
<g id="d-cryptic-arrows">
<use href="#darr" x="339"/><use href="#darr" x="347"/><use href="#darr" x="354"/><use href="#darr" x="403"/><use href="#darr" x="422"/><use href="#darr" x="456"/><use href="#darr" x="466"/><use href="#darr" x="475"/><use href="#darr" x="485"/><use href="#darr" x="542"/><use href="#darr" x="600"/><use href="#darr" x="692"/><use href="#darr" x="720"/><use href="#darr" x="739"/><use href="#darr" x="789"/><use href="#darr" x="812"/><use href="#darr" x="821"/><use href="#darr" x="832"/><use href="#darr" x="869"/><use href="#darr" x="880"/><use href="#darr" x="960"/><use href="#darr" x="993"/><use href="#darr" x="1069"/><use href="#darr" x="1079"/><use href="#darr" x="1101"/><use href="#darr" x="1131"/><use href="#darr" x="1142"/>
</g>
</g>

<g id="d-samplix" transform="translate(0,1092)">
<path class="inD" d="M303,0H1144"/>
<use href="#chevD" x="567"/>
<rect x="296" y="-15.5" width="7" height="31" fill="#f9dab4" stroke="#6e4a1a"/>
<rect x="307" y="-15.5" width="20" height="31" fill="#f9dab4" stroke="#6e4a1a"/>
<rect x="322" y="-15" width="4.5" height="30" fill="#e88a1a"/>
<use href="#dA" fill="#e88a1a" stroke="#6e4a1a"/>
<use href="#dB" fill="#e88a1a" stroke="#6e4a1a"/>
<use href="#dC" fill="#e88a1a" stroke="#6e4a1a"/>
<rect x="1144" y="-15.5" width="90" height="31" fill="#f9dab4" stroke="#6e4a1a"/>
</g>
</g>
</svg>
